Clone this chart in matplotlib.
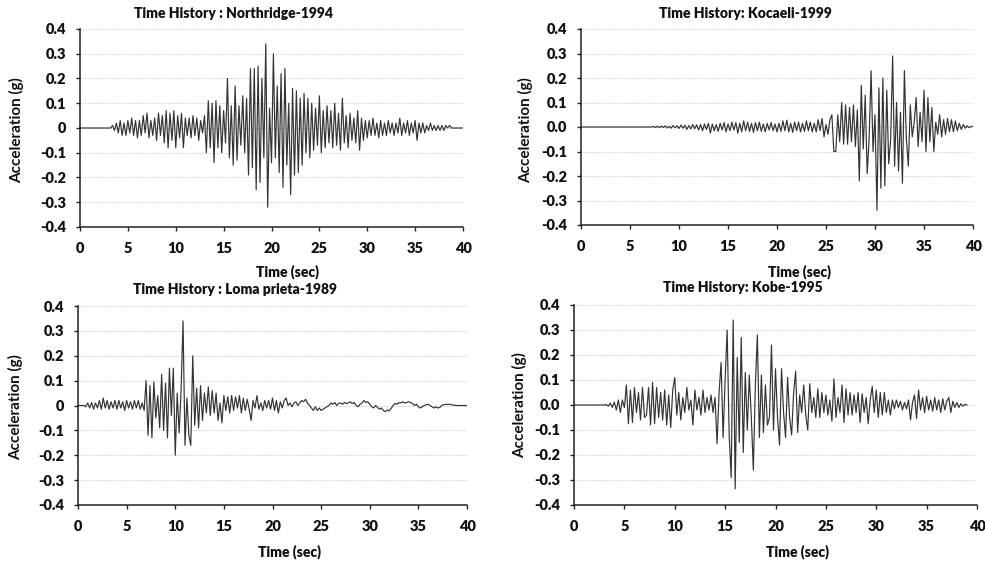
import numpy as np
import matplotlib
matplotlib.use("Agg")
import matplotlib.pyplot as plt
from matplotlib.ticker import FormatStrFormatter

# ---------------- data ----------------
dt = 0.2
time_end = 40.0

northridge = [
    0, 0, 0, 0, 0, 0, 0, 0, 0, 0,
    0, 0, 0, 0, 0, 0, 0, 0.01, -0.01, 0.02,
    -0.02, 0.03, -0.03, 0.02, -0.03, 0.03, -0.02, 0.04, -0.03, 0.03,
    -0.04, 0.03, -0.03, 0.05, -0.02, 0.06, -0.04, 0.03, -0.03, 0.04,
    -0.05, 0.06, -0.03, 0.05, -0.06, 0.07, -0.08, 0.06, -0.05, 0.07,
    -0.08, 0.05, -0.04, 0.06, -0.08, 0.04, -0.03, 0.04, -0.04, 0.05,
    -0.03, 0.04, -0.05, 0.03, -0.02, 0.05, -0.10, 0.11, -0.08, 0.10,
    -0.14, 0.11, -0.08, 0.09, -0.10, 0.07, -0.06, 0.20, -0.12, 0.09,
    -0.15, 0.17, -0.13, 0.09, -0.07, 0.13, -0.10, 0.12, -0.19, 0.24,
    -0.16, 0.24, -0.25, 0.25, -0.22, 0.20, -0.12, 0.34, -0.32, 0.08,
    -0.14, 0.30, -0.12, 0.17, -0.18, 0.22, -0.24, 0.24, -0.15, 0.10,
    -0.27, 0.16, -0.19, 0.15, -0.18, 0.12, -0.15, 0.14, -0.10, 0.12,
    -0.12, 0.10, -0.09, 0.08, -0.07, 0.13, -0.10, 0.07, -0.08, 0.09,
    -0.06, 0.07, -0.08, 0.10, -0.07, 0.06, -0.09, 0.12, -0.06, 0.05,
    -0.08, 0.06, -0.05, 0.04, -0.06, 0.07, -0.09, 0.04, -0.05, 0.03,
    -0.04, 0.03, -0.03, 0.04, -0.03, 0.02, -0.04, 0.03, -0.03, 0.02,
    -0.03, 0.03, -0.02, 0.02, -0.03, 0.02, -0.02, 0.04, -0.03, 0.02,
    -0.02, 0.03, -0.03, 0.02, -0.02, 0.03, -0.05, 0.02, -0.02, 0.02,
    -0.02, 0.01, -0.01, 0.02, -0.01, 0.01, -0.01, 0.01, -0.01, 0.01,
    -0.01, 0.01, 0, 0.01, 0, 0, 0, 0, 0, 0,
    0,
]

kocaeli = [
    0, 0, 0, 0, 0, 0, 0, 0, 0, 0,
    0, 0, 0, 0, 0, 0, 0, 0, 0, 0,
    0, 0, 0, 0, 0, 0, 0, 0, 0, 0,
    0, 0, 0, 0, 0, 0, 0, 0.002, -0.002, 0.003,
    -0.003, 0.004, -0.002, 0.005, -0.004, 0.003, -0.005, 0.006, -0.003, 0.005,
    -0.006, 0.008, -0.005, 0.007, -0.01, 0.006, -0.008, 0.01, -0.007, 0.009,
    -0.012, 0.01, -0.015, 0.012, -0.01, 0.015, -0.025, 0.012, -0.015, 0.01,
    -0.018, 0.015, -0.012, 0.018, -0.02, 0.012, -0.015, 0.02, -0.012, 0.018,
    -0.025, 0.015, -0.02, 0.025, -0.015, 0.02, -0.018, 0.015, -0.022, 0.018,
    -0.015, 0.02, -0.018, 0.012, -0.02, 0.015, -0.012, 0.018, -0.015, 0.012,
    -0.02, 0.015, -0.018, 0.025, -0.015, 0.028, -0.02, 0.015, -0.022, 0.02,
    -0.015, 0.02, -0.02, 0.015, -0.018, 0.025, -0.015, 0.02, -0.02, 0.015,
    -0.02, 0.03, -0.015, 0.035, -0.04, 0.01, -0.03, 0.03, 0.05, -0.10,
    -0.10, 0.05, -0.06, 0.10, -0.07, 0.09, -0.07, 0.08, -0.06, 0.09,
    -0.08, 0.07, -0.22, 0.17, -0.09, 0.13, -0.19, -0.05, 0.23, -0.10,
    0.05, -0.34, 0.16, -0.25, 0.20, -0.24, 0.15, -0.15, -0.05, 0.29,
    -0.16, 0.10, -0.18, 0.06, -0.23, 0.23, -0.05, -0.16, 0.09, -0.04,
    0.02, 0.12, -0.08, 0.06, -0.06, 0.15, -0.10, 0.12, -0.06, 0.08,
    -0.10, 0.02, -0.03, 0.05, -0.04, 0.03, -0.03, 0.035, -0.02, 0.03,
    -0.02, 0.025, -0.015, 0.015, -0.01, 0.01, -0.005, 0.005, -0.003, 0.002,
    0.003,
]

loma_prieta = [
    0, 0, 0, 0, -0.005, 0.01, -0.01, 0.012, -0.015, 0.01,
    -0.01, 0.02, -0.015, 0.03, -0.01, 0.02, -0.015, 0.015, -0.01, 0.02,
    -0.015, 0.02, -0.01, 0.015, -0.02, 0.02, -0.01, 0.015, -0.015, 0.02,
    -0.01, 0.02, -0.015, 0.01, -0.02, 0.10, -0.12, 0.08, -0.13, 0.095,
    -0.05, 0.04, -0.09, 0.125, -0.10, 0.09, -0.13, 0.15, -0.04, 0.15,
    -0.20, 0.05, -0.11, 0.06, 0.34, -0.16, 0.03, -0.12, -0.16, 0.20,
    -0.08, 0.07, -0.09, 0.08, -0.06, 0.05, -0.03, 0.075, -0.04, 0.06,
    -0.03, 0.05, -0.06, 0.01, -0.07, 0.04, -0.02, 0.035, -0.03, 0.04,
    -0.02, 0.035, -0.01, 0.04, -0.03, 0.03, -0.02, 0.025, -0.015, -0.06,
    0.02, -0.01, 0.04, -0.015, 0.01, -0.02, 0.02, -0.01, 0.02, -0.015,
    0.03, -0.02, 0.02, -0.03, 0.015, -0.01, 0.02, 0.03, 0.0, 0.01,
    -0.005, 0.01, 0.015, 0.0, 0.01, 0.02, 0.015, 0.025, 0.01, 0.0,
    -0.01, -0.02, -0.005, -0.02, -0.01, -0.02, -0.015, -0.01, -0.005, 0.0,
    0.01, 0.005, 0.012, 0.0, 0.008, 0.01, 0.005, 0.012, 0.008, 0.01,
    0.015, 0.008, 0.012, 0.0, -0.005, 0.005, 0.01, 0.02, 0.012, 0.015,
    0.005, -0.005, -0.01, 0.0, -0.008, -0.015, -0.01, -0.02, -0.025, -0.018,
    -0.022, -0.012, 0.0, 0.008, 0.005, 0.012, 0.01, 0.015, 0.01, 0.012,
    0.015, 0.012, 0.008, 0.0, 0.005, -0.005, -0.01, -0.005, 0.0, 0.003,
    0.005, 0.0, -0.005, -0.01, -0.005, -0.01, -0.008, 0.0, 0.003, 0.005,
    0.004, 0.005, 0.003, 0.002, 0.0, 0.0, 0.0, 0.0, 0.0, 0.0,
    0.0,
]

nan = float("nan")
kobe = [
    0, 0, 0, 0, 0, 0, 0, 0, 0, 0,
    0, 0, 0, 0, 0, 0, 0.002, -0.005, 0.008, -0.01,
    0.012, -0.02, 0.02, -0.03, 0.02, -0.01, 0.08, -0.075, 0.06, -0.07,
    0.07, -0.03, 0.05, -0.06, 0.07, -0.05, -0.04, 0.07, -0.08, 0.09,
    -0.075, 0.07, -0.05, 0.05, -0.06, 0.06, -0.08, 0.04, -0.09, 0.06,
    0.11, -0.04, 0.05, -0.06, 0.03, -0.03, 0.07, -0.02, 0.02, -0.08,
    0.06, -0.02, 0.03, -0.04, 0.06, -0.03, 0.03, -0.02, 0.04, -0.03,
    0.03, -0.155, 0.05, 0.17, -0.13, 0.10, 0.30, -0.12, -0.29, 0.34,
    -0.335, 0.19, -0.15, 0.27, -0.19, 0.13, -0.10, 0.12, -0.05, -0.26,
    0.08, 0.28, -0.13, 0.12, -0.11, 0.08, -0.08, -0.05, 0.24, -0.10,
    0.145, -0.05, -0.16, 0.145, -0.03, -0.13, 0.11, -0.05, -0.12, 0.05,
    0.135, -0.11, 0.04, -0.03, 0.08, -0.04, -0.10, 0.085, -0.03, 0.03,
    -0.05, 0.065, -0.05, 0.05, -0.03, 0.04, -0.04, 0.02, -0.065, 0.105,
    -0.05, 0.03, -0.03, 0.08, -0.07, 0.065, -0.04, 0.05, -0.04, 0.04,
    -0.03, 0.05, -0.07, 0.045, -0.03, 0.03, -0.075, 0.02, 0.075, -0.03,
    0.06, -0.05, 0.05, -0.04, 0.05, -0.03, 0.02, -0.04, 0.02, -0.015,
    0.02, -0.01, 0.015, -0.02, 0.01, -0.015, 0.02, -0.06, 0.01, 0.04,
    -0.055, 0.06, -0.02, 0.03, -0.03, 0.035, -0.02, 0.02, -0.025, 0.03,
    -0.02, 0.02, -0.03, 0.025, -0.02, 0.015, 0.03, -0.03, 0.015, -0.01,
    0.01, -0.01, 0.005, -0.005, 0.003, 0.0, nan, nan, nan, nan,
    nan,
]

titles = ["Time History : Northridge-1994", "Time History: Kocaeli-1999",
          "Time History : Loma prieta-1989", "Time History: Kobe-1995"]
records = [northridge, kocaeli, loma_prieta, kobe]
y_formats = ["%g", "%.1f", "%g", "%.1f"]
x_ticks = [0, 5, 10, 15, 20, 25, 30, 35, 40]
y_ticks = [0.4, 0.3, 0.2, 0.1, 0.0, -0.1, -0.2, -0.3, -0.4]
x_label = "Time (sec)"
y_label = "Acceleration (g)"

# ---------------- layout ----------------
W, H = 985, 563
fig = plt.figure(figsize=(W / 100, H / 100), dpi=100)
FONT = "Lato"

# axes rectangles in pixels: left, right, top, bottom
boxes = [(80, 463, 29, 227), (581, 973, 29, 225),
         (78, 467, 306, 505), (574, 977, 305, 505)]
title_pos = [(234, 13), (745, 13), (235, 289), (743, 287)]
ylab_pos = [(17, 130), (526, 130), (16, 407), (520, 405)]
xlab_pos = [(288, 272), (799, 272), (289, 552), (798, 552)]

for i, rec in enumerate(records):
    l, r, t, b = boxes[i]
    ax = fig.add_axes([l / W, 1 - b / H, (r - l) / W, (b - t) / H])
    tt = np.arange(len(rec)) * dt
    ax.plot(tt, rec, color="#333333", lw=0.85)
    ax.set_xlim(0, time_end)
    ax.set_ylim(-0.4, 0.4)
    ax.set_xticks(x_ticks)
    ax.set_yticks(y_ticks)
    ax.yaxis.set_major_formatter(FormatStrFormatter(y_formats[i]))
    if y_formats[i] == "%g":
        ax.set_yticklabels([("%g" % v) if abs(v) > 1e-9 else "0" for v in y_ticks])
    ax.grid(axis="y", color="#c8c8c8", linestyle=(0, (1.5, 1.5)), lw=0.6)
    ax.set_axisbelow(True)
    for s in ["top", "right"]:
        ax.spines[s].set_visible(False)
    for s in ["left", "bottom"]:
        ax.spines[s].set_color("#222222")
        ax.spines[s].set_linewidth(1.1)
    ax.tick_params(axis="both", direction="out", length=3, width=1.0,
                   color="#222222", labelsize=10.5, labelcolor="#111111")
    ax.tick_params(axis="y", pad=7)
    ax.tick_params(axis="x", pad=8)
    for lab in ax.get_xticklabels() + ax.get_yticklabels():
        lab.set_fontfamily(FONT)
        lab.set_fontweight("heavy")

    x, y = title_pos[i]
    fig.text(x / W, 1 - y / H, titles[i], ha="center", va="center",
             fontsize=10, fontweight="heavy", family=FONT, color="#111111")
    x, y = ylab_pos[i]
    fig.text(x / W, 1 - y / H, y_label, ha="center", va="center", rotation=90,
             fontsize=11, fontweight="bold", family=FONT, color="#111111")
    x, y = xlab_pos[i]
    fig.text(x / W, 1 - y / H, x_label, ha="center", va="center",
             fontsize=10, fontweight="heavy", family=FONT, color="#111111")

fig.savefig("out.png", dpi=100, facecolor="white")
